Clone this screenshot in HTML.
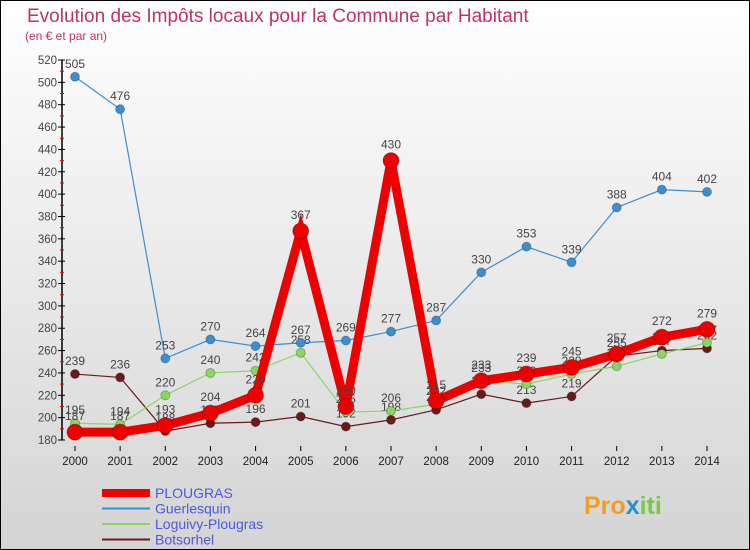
<!DOCTYPE html>
<html><head><meta charset="utf-8"><style>
body{margin:0;padding:0;}
#wrap{width:750px;height:550px;position:relative;overflow:hidden;}
svg text{font-family:"Liberation Sans",sans-serif;}
</style></head><body>
<div id="wrap">
<svg id="svg" width="750" height="550" xmlns="http://www.w3.org/2000/svg">
<defs><linearGradient id="bg" x1="0" y1="0" x2="0" y2="1"><stop offset="0" stop-color="#ffffff"/><stop offset="1" stop-color="#d4d4d4"/></linearGradient></defs>
<rect x="0.5" y="0.5" width="749" height="549" fill="url(#bg)" stroke="#000"/>
<text x="27" y="22" font-size="19" fill="#c0306a">Evolution des Impôts locaux pour la Commune par Habitant</text>
<text x="25" y="40" font-size="12" fill="#c0306a">(en € et par an)</text>
<g id="axes"></g><g id="series"></g><g id="legend"></g>
<text x="584" y="514" font-size="25" font-weight="bold" fill="#f0a020">Pro<tspan fill="#2a8fd0">x</tspan><tspan fill="#7ac943">iti</tspan></text>
</svg></div>
<script>
const years=["2000","2001","2002","2003","2004","2005","2006","2007","2008","2009","2010","2011","2012","2013","2014"];
const plougras=[187,187,193,204,220,367,210,430,215,233,239,245,257,272,279];
const guerlesquin=[505,476,253,270,264,267,269,277,287,330,353,339,388,404,402];
const loguivy=[195,194,220,240,242,258,205,206,212,233,230,239,246,257,267];
const botsorhel=[239,236,188,195,196,201,192,198,207,221,213,219,255,260,262];
const yTicks=[180,200,220,240,260,280,300,320,340,360,380,400,420,440,460,480,500,520];
const NS="http://www.w3.org/2000/svg";
const xS=i=>75+i*(707-75)/14;
const yS=v=>440-(v-180)*(380/340);
function mk(t,a,p){const e=document.createElementNS(NS,t);for(const k in a)e.setAttribute(k,a[k]);p.appendChild(e);return e;}
const ax=document.getElementById('axes');
const yl=mk('line',{x1:62,y1:yS(520),x2:62,y2:yS(180),stroke:'#000','stroke-width':1.5},ax);


yTicks.forEach(v=>{
 mk('line',{x1:58,y1:yS(v),x2:65,y2:yS(v),stroke:'#000'},ax);
 if(v<520) mk('line',{x1:60,y1:yS(v+10),x2:64,y2:yS(v+10),stroke:'#e00'},ax);
 const t=mk('text',{x:57,y:yS(v)+4,'font-size':11.5,'text-anchor':'end',fill:'#444'},ax);
 t.textContent=v;
 
 
});
years.forEach((y,i)=>{
 mk('line',{x1:xS(i),y1:446,x2:xS(i),y2:451,stroke:'#000'},ax);
 const t=mk('text',{x:xS(i),y:465,'font-size':11.5,'text-anchor':'middle',fill:'#222'},ax);
 t.textContent=y;
 
 
});
const sg=document.getElementById('series');
function series(name,data,color,w,r){
 const g=mk('g',{},sg);
 
 
 const pl=mk('polyline',{points:data.map((v,i)=>xS(i)+','+yS(v)).join(' '),fill:'none',stroke:color,'stroke-width':w,'stroke-linejoin':'miter'},g);
 
 
 data.forEach((v,i)=>{
  const c=mk('circle',{cx:xS(i),cy:yS(v),r:r,fill:color,stroke:'rgba(0,0,0,0.25)'},g);
  
  
  const t=mk('text',{x:xS(i),y:yS(v)-9-(r>5?3:0),'font-size':12,'text-anchor':'middle',fill:'#444'},g);
  t.textContent=v;
  
  
 });
}
series('botsorhel',botsorhel,'#6b1a1a',1.2,4.5);
series('loguivy-plougras',loguivy,'#88d860',1.2,4.5);
series('guerlesquin',guerlesquin,'#3b8fd0',1.2,4.5);
series('plougras',plougras,'#ee0000',9,8);
const lg=document.getElementById('legend');
const items=[['PLOUGRAS','#ee0000',8],['Guerlesquin','#3b8fd0',2],['Loguivy-Plougras','#88d860',2],['Botsorhel','#6b1a1a',2]];
items.forEach((it,k)=>{
 const y=493+k*15.5;
 const l=mk('line',{x1:102,y1:y,x2:150,y2:y,stroke:it[1],'stroke-width':it[2]},lg);
 
 
 const t=mk('text',{x:155,y:y+5,'font-size':14,fill:'#4a5ad8'},lg);
 t.textContent=it[0];
 
 
});
</script>
</body></html>
